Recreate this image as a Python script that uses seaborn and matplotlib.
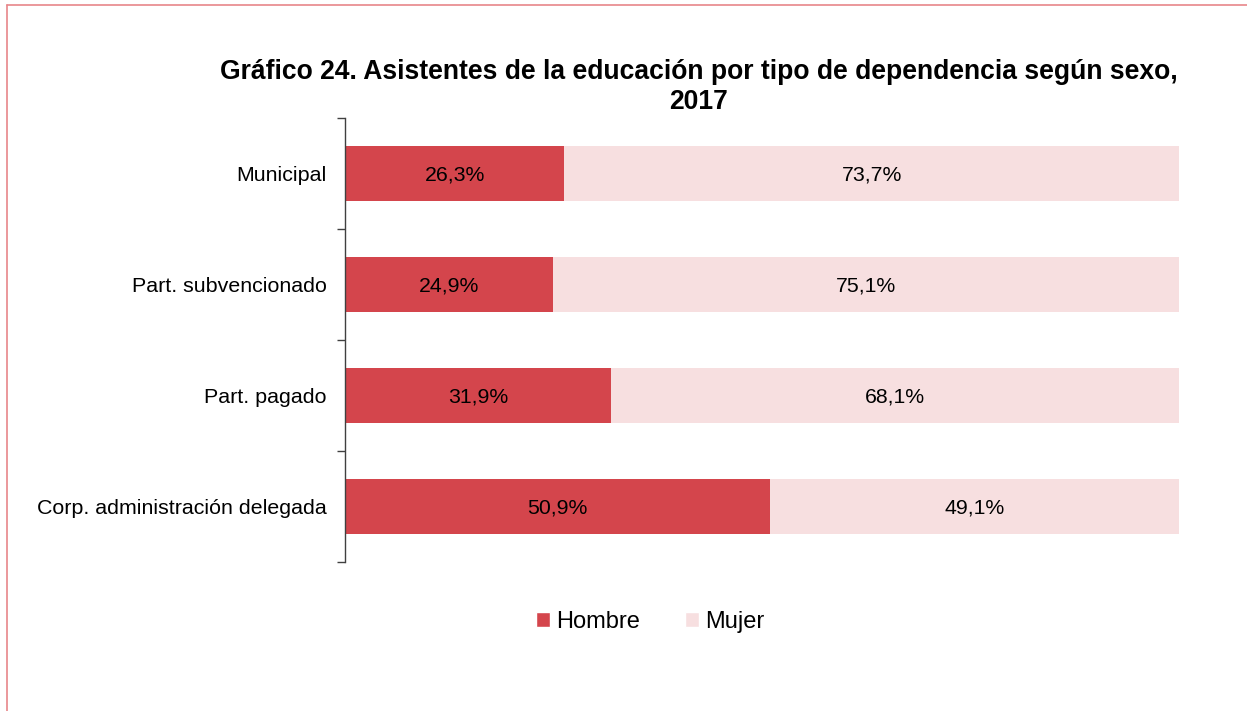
import matplotlib
matplotlib.use("Agg")
import matplotlib.pyplot as plt
import seaborn as sns
import pandas as pd
from matplotlib.lines import Line2D
from matplotlib.patches import Patch

# Data
categorias = ["Municipal", "Part. subvencionado", "Part. pagado", "Corp. administración delegada"]
hombre = [26.3, 24.9, 31.9, 50.9]
mujer = [73.7, 75.1, 68.1, 49.1]

color_hombre = "#D4454C"
color_mujer = "#F7DFE0"

df = pd.DataFrame({"categoria": categorias, "Hombre": hombre, "Mujer": mujer})
df["total"] = df["Hombre"] + df["Mujer"]

sns.set_theme(style="white")
plt.rcParams["font.family"] = ["Liberation Sans", "DejaVu Sans"]
plt.rcParams["text.color"] = "black"

fig = plt.figure(figsize=(12.47, 7.11), dpi=100)
ax = fig.add_axes([345 / 1247, 1 - 562 / 711, (1179 - 345) / 1247, (562 - 118) / 711])

# stacked bars: total first (Mujer colour), Hombre on top
sns.barplot(data=df, x="total", y="categoria", orient="h", color=color_mujer,
            width=0.5, saturation=1, linewidth=0, ax=ax)
sns.barplot(data=df, x="Hombre", y="categoria", orient="h", color=color_hombre,
            width=0.5, saturation=1, linewidth=0, ax=ax)

def fmt(v):
    return f"{v:.1f}%".replace(".", ",")

for i, (h, m) in enumerate(zip(hombre, mujer)):
    ax.text(h / 2, i + 0.01, fmt(h), ha="center", va="center", fontsize=15.3, color="black")
    ax.text(h + m / 2, i + 0.01, fmt(m), ha="center", va="center", fontsize=15.3, color="black")

ax.set_xlim(0, 100)
ax.set_ylim(3.5, -0.5)
ax.set_xlabel("")
ax.set_ylabel("")
ax.set_xticks([])
for s in ["top", "right", "bottom"]:
    ax.spines[s].set_visible(False)
ax.spines["left"].set_color("#404040")
ax.spines["left"].set_linewidth(1.0)

ax.set_yticks(range(len(categorias)))
ax.set_yticklabels(categorias, fontsize=15.4, color="black")
ax.set_yticks([-0.5, 0.5, 1.5, 2.5, 3.5], minor=True)
ax.tick_params(axis="y", which="major", length=0, pad=13)
ax.tick_params(axis="y", which="minor", length=6, width=1.0, color="#404040", direction="out", left=True)

fig.text(699 / 1247, 1 - 87 / 711, "Gráfico 24. Asistentes de la educación por tipo de dependencia según sexo,\n2017",
         ha="center", va="center", fontsize=19.1, fontweight="bold", linespacing=1.2, color="black")

handles = [Patch(facecolor=color_hombre, label="Hombre"), Patch(facecolor=color_mujer, label="Mujer")]
fig.legend(handles=handles, loc="center", bbox_to_anchor=(650 / 1247, 1 - 622 / 711), ncol=2,
           frameon=False, fontsize=17, handlelength=0.6, handleheight=0.6, handletextpad=0.25,
           columnspacing=1.9)

# outer border (only top and left visible)
fig.add_artist(Line2D([7 / 1247, 7 / 1247], [0, 1 - 5 / 711], transform=fig.transFigure,
                      color="#E8868A", linewidth=1.2))
fig.add_artist(Line2D([7 / 1247, 1], [1 - 5 / 711, 1 - 5 / 711], transform=fig.transFigure,
                      color="#E8868A", linewidth=1.2))

fig.savefig("out.png", dpi=100)
